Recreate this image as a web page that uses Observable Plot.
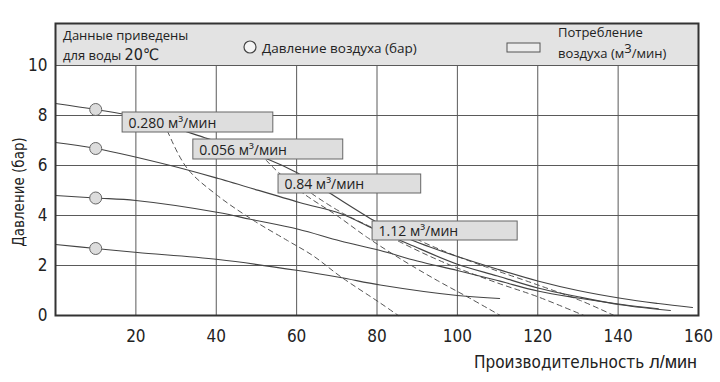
<!DOCTYPE html>
<html>
<head>
<meta charset="utf-8">
<script src="https://cdn.jsdelivr.net/npm/d3@7"></script>
<script src="https://cdn.jsdelivr.net/npm/@observablehq/plot@0.6"></script>
<style>
  html, body { margin: 0; padding: 0; background: #fff; }
  #chart { width: 720px; height: 382px; }
</style>
</head>
<body>
<div id="chart"></div>
<script>
// ---- tick values ----
const xTicks = [20, 40, 60, 80, 100, 120, 140, 160];
const yTicks = [0, 2, 4, 6, 8, 10];
const gridX = [20, 40, 60, 80, 100, 120, 140];
const gridY = [2, 4, 6, 8, 10];

// ---- air-pressure curves (solid) : flow (л/мин) / head (бар) ----
const flowP8 = [0, 10, 20, 37, 53, 60, 68, 79, 86, 93, 100, 110, 120, 130, 141, 150, 158.5];
const headP8 = [8.48, 8.24, 7.95, 7.12, 6.24, 5.72, 4.92, 3.82, 3.2, 2.75, 2.36, 1.85, 1.38, 1.0, 0.68, 0.48, 0.32];
const flowP7 = [0, 10, 28.6, 40.5, 60.7, 70.9, 79, 88, 100, 110, 120, 130, 141, 153];
const headP7 = [6.92, 6.68, 6.0, 5.48, 4.52, 4.08, 3.48, 2.85, 2.05, 1.58, 1.1, 0.75, 0.42, 0.2];
const flowP5 = [0, 10, 20, 40.5, 48.5, 60.4, 70.9, 80.8, 90, 100, 110, 120, 130, 141, 150];
const headP5 = [4.8, 4.7, 4.6, 4.12, 3.85, 3.45, 2.98, 2.6, 2.18, 1.8, 1.4, 0.98, 0.7, 0.44, 0.27];
const flowP3 = [0, 10, 20.4, 40.5, 60.4, 70.9, 80.8, 100, 110.5];
const headP3 = [2.84, 2.68, 2.52, 2.24, 1.8, 1.52, 1.22, 0.8, 0.68];

// ---- air consumption lines (dashed) ----
const flowA1 = [27, 28, 32.8, 40.3, 49.3, 57.7, 64, 71, 80.8, 85.3];
const headA1 = [7.7, 7.32, 5.88, 4.8, 3.8, 3.0, 2.4, 1.55, 0.5, 0];
const flowA2 = [51, 52.5, 55.5, 61.7, 70, 77.6, 86, 95, 103, 110.7];
const headA2 = [6.5, 6.2, 5.72, 4.88, 4.0, 3.12, 2.25, 1.4, 0.7, 0];
const flowA3 = [62, 64, 71.6, 79, 86, 93, 100, 110, 120, 131.5];
const headA3 = [5.1, 4.85, 4.08, 3.5, 2.92, 2.38, 1.9, 1.3, 0.75, 0];
const flowA4 = [88, 90, 97.5, 107.5, 119, 130.6, 139];
const headA4 = [3.25, 3.05, 2.52, 1.92, 1.28, 0.6, 0];

// ---- markers on the pressure curves ----
const markerFlow = [10, 10, 10, 10];
const markerHead = [8.24, 6.68, 4.7, 2.68];

// ---- consumption label boxes ----
const boxText = ["0.280 м³/мин", "0.056 м³/мин", "0.84 м³/мин", "1.12 м³/мин"];
const boxX1 = [16.7, 34.3, 55.5, 78.9];
const boxX2 = [54.2, 71.6, 91.0, 115.0];
const boxY1 = [7.32, 6.24, 4.88, 3.0];
const boxY2 = [8.12, 7.04, 5.64, 3.76];

const yTop = 11.68;

const toPts = (xs, ys, id) => xs.map((x, i) => ({x, y: ys[i], id}));
const solid = [
  ...toPts(flowP8, headP8, "p8"), ...toPts(flowP7, headP7, "p7"),
  ...toPts(flowP5, headP5, "p5"), ...toPts(flowP3, headP3, "p3")
];
const dashed = [
  ...toPts(flowA1, headA1, "a1"), ...toPts(flowA2, headA2, "a2"),
  ...toPts(flowA3, headA3, "a3"), ...toPts(flowA4, headA4, "a4")
];
const markers = markerFlow.map((x, i) => ({x, y: markerHead[i]}));
const boxes = boxText.map((t, i) => ({t, x1: boxX1[i], x2: boxX2[i], y1: boxY1[i], y2: boxY2[i], ym: (boxY1[i] + boxY2[i]) / 2}));

const narrow = "'Liberation Sans Narrow','DejaVu Sans Condensed','DejaVu Sans',sans-serif";
const sans = "'Open Sans','Noto Sans',sans-serif";

const plot = Plot.plot({
  width: 720,
  height: 382,
  marginLeft: 55,
  marginRight: 22,
  marginTop: 23,
  marginBottom: 67,
  style: {fontFamily: narrow, background: "#fff", color: "#222", fontStretch: "condensed"},
  x: {domain: [0, 160]},
  y: {domain: [0, yTop]},
  marks: [
    Plot.rect([0], {x1: 0, x2: 160, y1: 10, y2: yTop, fill: "#e3e3e3"}),
    Plot.ruleX(gridX, {y1: 0, y2: 10, stroke: "#5a5a5a", strokeWidth: 1}),
    Plot.ruleY(gridY, {stroke: "#5a5a5a", strokeWidth: 1}),
    Plot.line(dashed, {x: "x", y: "y", z: "id", curve: "catmull-rom", stroke: "#555", strokeWidth: 1, strokeDasharray: "5,4"}),
    Plot.line(solid, {x: "x", y: "y", z: "id", curve: "catmull-rom", stroke: "#444", strokeWidth: 1.2}),
    Plot.dot(markers, {x: "x", y: "y", r: 6, fill: "#dcdcdc", stroke: "#666", strokeWidth: 1}),
    Plot.rect(boxes, {x1: "x1", x2: "x2", y1: "y1", y2: "y2", fill: "#dedede", stroke: "#666", strokeWidth: 1}),
    Plot.text(boxes, {x: "x1", y: "ym", text: "t", textAnchor: "start", dx: 6, dy: 1, fontSize: 14, fontFamily: sans, fill: "#222"}),
    Plot.frame({stroke: "#333", strokeWidth: 2}),
    Plot.axisX({ticks: xTicks, tickSize: 0, tickPadding: 14, fontSize: 17, label: null}),
    Plot.axisY({ticks: yTicks, tickSize: 0, tickPadding: 8, fontSize: 17, label: null})
  ]
});
document.getElementById("chart").appendChild(plot);

const svg = d3.select(plot);
// box labels in normal width
svg.selectAll("text").filter(function () { return this.textContent.includes("мин"); }).style("font-stretch", "normal");

// ---- legend band texts and axis titles ----
const g = svg.append("g").attr("fill", "#222").attr("text-anchor", "start").style("font-stretch", "normal");
const t1 = g.append("text").attr("x", 63).attr("y", 40).attr("font-family", sans).attr("font-size", 13);
t1.text("Данные приведены");
const t2 = g.append("text").attr("x", 63).attr("y", 60).attr("font-family", sans).attr("font-size", 13);
t2.append("tspan").text("для воды ");
t2.append("tspan").attr("font-size", 16).attr("font-family", narrow).style("font-stretch", "condensed").text("20℃");

g.append("circle").attr("cx", 250).attr("cy", 47).attr("r", 6).attr("fill", "#f4f4f4").attr("stroke", "#444").attr("stroke-width", 1.2);
g.append("text").attr("x", 262).attr("y", 53).attr("font-family", sans).attr("font-size", 13.5).text("Давление воздуха (бар)");

g.append("rect").attr("x", 507).attr("y", 43).attr("width", 33).attr("height", 9).attr("fill", "#ececec").attr("stroke", "#555").attr("stroke-width", 1);
g.append("text").attr("x", 558).attr("y", 37).attr("font-family", sans).attr("font-size", 13).text("Потребление");
const t3 = g.append("text").attr("x", 558).attr("y", 58).attr("font-family", sans).attr("font-size", 13);
t3.append("tspan").text("воздуха (м");
t3.append("tspan").attr("dy", -5).text("3");
t3.append("tspan").attr("dy", 5).text("/мин)");

g.append("text").attr("transform", "translate(24,192) rotate(-90)").attr("text-anchor", "middle")
  .attr("font-family", narrow).style("font-stretch", "condensed").attr("font-size", 15).text("Давление (бар)");

const tx = g.append("text").attr("x", 697).attr("y", 368).attr("text-anchor", "end");
tx.append("tspan").attr("font-family", narrow).style("font-stretch", "condensed").attr("font-size", 17).text("Производительность ");
tx.append("tspan").attr("font-family", "'Liberation Sans',sans-serif").attr("font-size", 18).text("л/мин");
</script>
</body>
</html>
